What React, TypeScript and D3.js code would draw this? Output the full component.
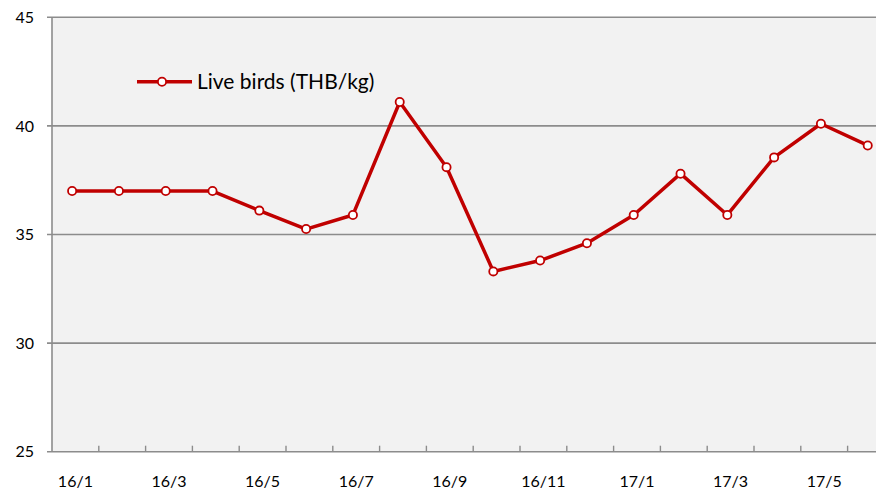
import React from "react";
import * as d3 from "d3";

const categories = ["16/1","16/2","16/3","16/4","16/5","16/6","16/7","16/8","16/9","16/10","16/11","16/12","17/1","17/2","17/3","17/4","17/5","17/6"];
const liveBirds = [37.0,37.0,37.0,37.0,36.1,35.25,35.9,41.1,38.1,33.3,33.8,34.6,35.9,37.8,35.9,38.55,40.1,39.1];
const yTicks = [25,30,35,40,45];
const seriesName = "Live birds (THB/kg)";

const W = 876, H = 489;
const left = 52, top = 17.3, bottom = 451.7;
const step = 46.8;

export default function App() {
  const x = d3.scaleBand<string>().domain(categories).range([left, left + step * categories.length]).padding(0);
  const px = (c: string) => (x(c) as number) + x.bandwidth() * 0.43;
  const y = d3.scaleLinear().domain([25, 45]).range([bottom, top]);
  const line = d3.line<number>().x((_, i) => px(categories[i])).y(d => y(d));
  const font = "Lato, 'Open Sans', sans-serif";
  const grid = "#8c8c8c";
  const red = "#c00000";
  return (
    <div style={{ position: "fixed", left: 0, top: 0 }}>
      <svg width={W} height={H} style={{ display: "block", background: "#fff" }}>
        <rect x={left} y={top} width={W - left} height={bottom - top} fill="#f2f2f2" />
        {yTicks.map(t => (
          <g key={t}>
            <line x1={left - 5} x2={W} y1={y(t)} y2={y(t)} stroke={grid} strokeWidth={1.6} />
            <text x={34} y={y(t)} dy="0.36em" textAnchor="end" fontFamily={font} fontSize={16} fill="#000">{t}</text>
          </g>
        ))}
        <line x1={left} x2={left} y1={top} y2={bottom} stroke={grid} strokeWidth={1.6} />
        {categories.slice(1).map(c => (
          <line key={c} x1={x(c) as number} x2={x(c) as number} y1={bottom} y2={bottom - 6} stroke={grid} strokeWidth={1.4} />
        ))}
        {categories.map((c, i) => i % 2 === 0 ? (
          <text key={c} x={(x(c) as number) + x.bandwidth() / 2} y={487} textAnchor="middle" fontFamily={font} fontSize={16} fill="#000">{c}</text>
        ) : null)}
        <path d={line(liveBirds) || ""} fill="none" stroke={red} strokeWidth={3.5} strokeLinejoin="round" />
        {liveBirds.map((v, i) => (
          <circle key={i} cx={px(categories[i])} cy={y(v)} r={4.1} fill="#fff" stroke={red} strokeWidth={1.8} />
        ))}
        <line x1={137} x2={192} y1={81.7} y2={81.7} stroke={red} strokeWidth={3.5} />
        <circle cx={162} cy={81.7} r={4.1} fill="#fff" stroke={red} strokeWidth={1.8} />
        <text x={197} y={89.3} fontFamily={font} fontSize={21} fill="#000">{seriesName}</text>
      </svg>
    </div>
  );
}
